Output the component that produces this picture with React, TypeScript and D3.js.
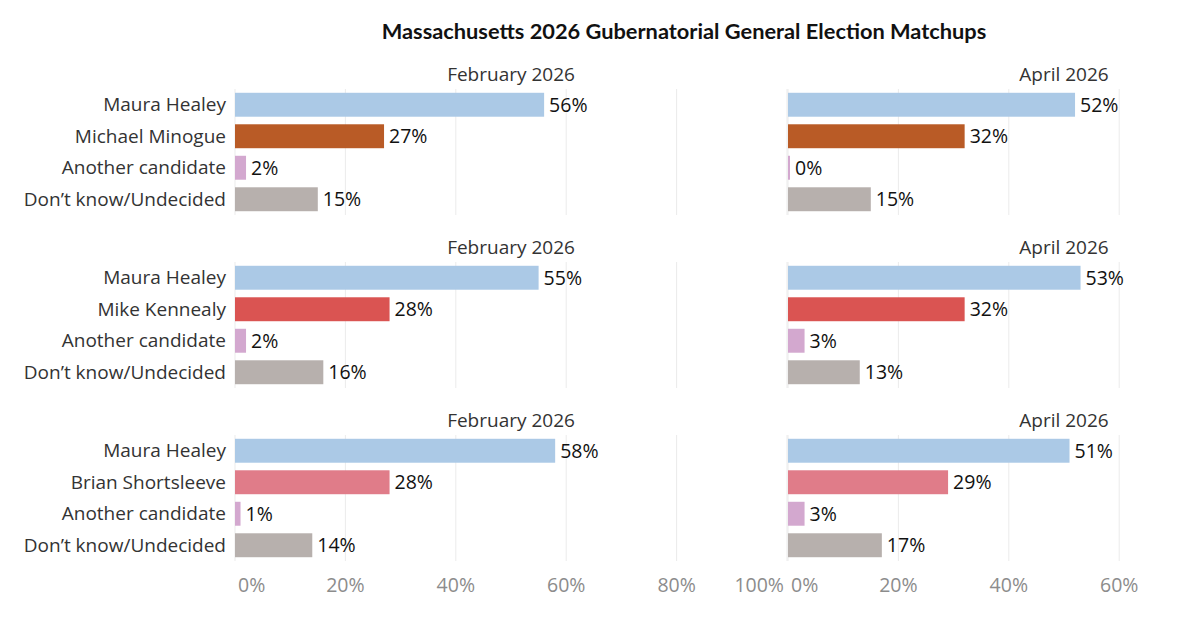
import React from 'react';
import * as d3 from 'd3';

const title = 'Massachusetts 2026 Gubernatorial General Election Matchups';
const periods = ['February 2026', 'April 2026'];
const opponents = ['Michael Minogue', 'Mike Kennealy', 'Brian Shortsleeve'];
const opponentColors = ['#b95b26', '#da5452', '#e07c89'];

// [Healey, opponent, another candidate, undecided]
const februaryValues = [
  [56, 27, 2, 15],
  [55, 28, 2, 16],
  [58, 28, 1, 14],
];
const aprilValues = [
  [52, 32, 0, 15],
  [53, 32, 3, 13],
  [51, 29, 3, 17],
];
const xTicks = [0, 20, 40, 60, 80, 100];

const healeyColor = '#abc9e6';
const anotherColor = '#d3a8cf';
const undecidedColor = '#b7b0ad';

const W = 1200;
const H = 618;
const FONT = "'Open Sans', 'DejaVu Sans', sans-serif";

const App: React.FC = () => {
  const panelWidth = 552;
  const panels = [
    d3.scaleLinear().domain([0, 100]).range([235, 235 + panelWidth]),
    d3.scaleLinear().domain([0, 100]).range([788, 788 + panelWidth]),
  ];
  const groupTop = d3.scaleLinear().domain([0, 1]).range([89, 262]);
  const groupHeight = 126;
  const axisY = 592;

  return (
    <div>
      <style>{`body{margin:0;background:#fff}`}</style>
      <svg width={W} height={H} style={{ display: 'block', fontFamily: FONT }}>
        <rect width={W} height={H} fill="#fff" />
        <text
          x={684}
          y={39}
          textAnchor="middle"
          fontFamily="Lato, 'Open Sans', sans-serif"
          fontWeight={700}
          fontSize={21.8}
          fill="#111"
        >
          {title}
        </text>

        {opponents.map((opp, gi) => {
          const top = groupTop(gi);
          const cats = ['Maura Healey', opp, 'Another candidate', 'Don\u2019t know/Undecided'];
          const colors = [healeyColor, opponentColors[gi], anotherColor, undecidedColor];
          const y = d3
            .scaleBand<number>()
            .domain(d3.range(cats.length))
            .range([top, top + groupHeight])
            .paddingInner(0.24)
            .paddingOuter(0.12);
          const sets = [februaryValues[gi], aprilValues[gi]];
          return (
            <g key={opp}>
              {cats.map((c, i) => (
                <text
                  key={c}
                  x={226}
                  y={(y(i) as number) + y.bandwidth() / 2}
                  dy="0.35em"
                  textAnchor="end"
                  fontSize={19}
                  fill="#333"
                >
                  {c}
                </text>
              ))}
              {panels.map((x, pi) => {
                const [x0, x1] = x.range();
                return (
                  <g key={pi}>
                    {xTicks.map((t) => (
                      <line
                        key={t}
                        x1={x(t)}
                        x2={x(t)}
                        y1={top}
                        y2={top + groupHeight}
                        stroke="#ebebeb"
                        strokeWidth={1}
                      />
                    ))}
                    <text
                      x={(x0 + x1) / 2}
                      y={top - 8}
                      textAnchor="middle"
                      fontSize={19}
                      fill="#333"
                    >
                      {periods[pi]}
                    </text>
                    {sets[pi].map((v, i) => {
                      const yy = y(i) as number;
                      const w = Math.max(2, x(v) - x(0));
                      return (
                        <g key={i}>
                          <rect x={x(0)} y={yy} width={w} height={y.bandwidth()} fill={colors[i]} />
                          <text
                            x={x(0) + w + 5}
                            y={yy + y.bandwidth() / 2}
                            dy="0.36em"
                            fontSize={19.5}
                            fill="#111"
                          >
                            {`${v}%`}
                          </text>
                        </g>
                      );
                    })}
                  </g>
                );
              })}
            </g>
          );
        })}

        {panels.map((x, pi) =>
          xTicks
            .filter((t) => x(t) < W - 30)
            .map((t, ti) => {
              const anchor = ti === 0 ? 'start' : pi === 0 && t === 100 ? 'end' : 'middle';
              const dx = ti === 0 ? 3 : anchor === 'end' ? -3 : 0;
              return (
                <text
                  key={`${pi}-${t}`}
                  x={x(t) + dx}
                  y={axisY}
                  textAnchor={anchor}
                  fontSize={19.5}
                  fill="#8c8c8c"
                >
                  {`${t}%`}
                </text>
              );
            })
        )}
      </svg>
    </div>
  );
};

export default App;
